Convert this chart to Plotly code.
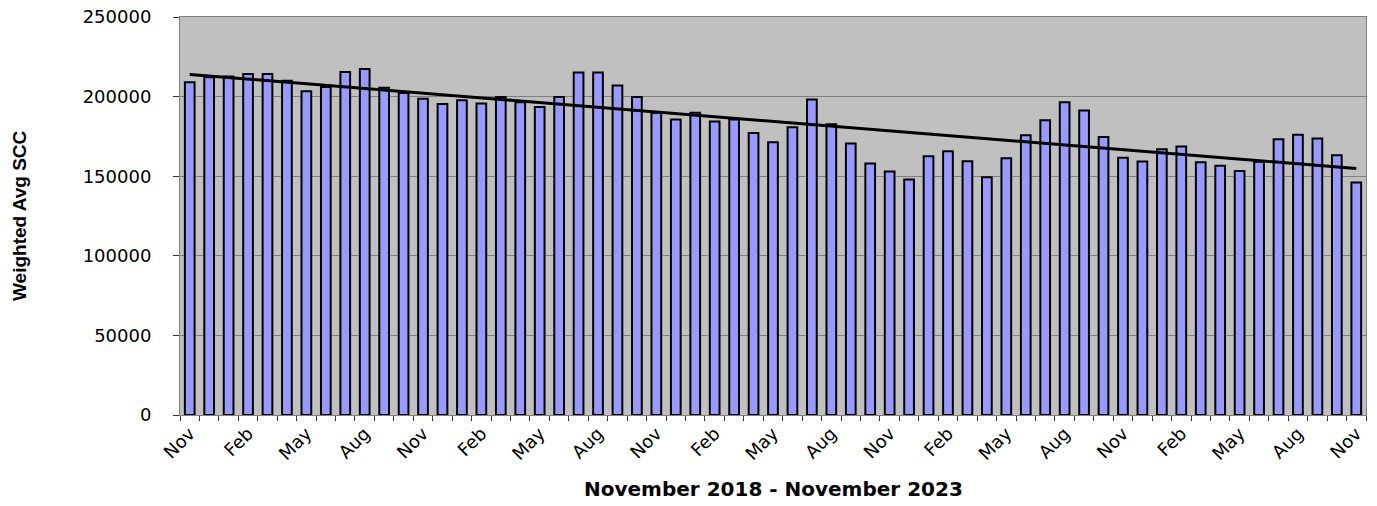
import numpy as np
import pandas as pd
import plotly.graph_objects as go

# Categories: monthly, November 2018 - November 2023
months = [d.strftime("%b") for d in pd.date_range("2018-11-01", "2023-11-01", freq="MS")]

# Weighted average SCC per month
scc_values = [
    209000, 212100, 212700, 214200, 214200, 210000, 203300, 206100, 215500, 217400,
    205500, 202300, 198600, 195400, 197700, 195600, 199800, 196400, 193500, 199800,
    215200, 215200, 206900, 199800, 189800, 185600, 189800, 184300, 185600, 177200,
    171400, 180800, 198100, 182600, 170500, 158000, 153000, 148000, 162600, 165700,
    159400, 149400, 161300, 175700, 185200, 196400, 191200, 174700, 161600, 159300,
    167000, 168700, 158800, 156600, 153200, 159100, 173200, 176000, 173700, 163200,
    146100,
]

label_every = 3
y_ticks = [0, 50000, 100000, 150000, 200000, 250000]
y_ticktext = [str(v) for v in y_ticks]

x_idx = np.arange(len(scc_values))
slope, intercept = np.polyfit(x_idx, scc_values, 1)
trend_x = [x_idx[0], x_idx[-1]]
trend_y = [intercept + slope * x_idx[0], intercept + slope * x_idx[-1]]

font_main = "DejaVu Sans, Liberation Sans, Arial, sans-serif"

fig = go.Figure()
fig.add_trace(go.Bar(
    x=x_idx, y=scc_values, width=0.5,
    marker=dict(color="#9999FF", line=dict(color="black", width=2)),
    showlegend=False,
))
fig.add_trace(go.Scatter(
    x=trend_x, y=trend_y, mode="lines",
    line=dict(color="black", width=3), showlegend=False,
))

tickvals = list(x_idx[::label_every])
ticktext = [months[i] for i in tickvals]

fig.update_layout(
    width=1377, height=506,
    margin=dict(l=180, r=11, t=17, b=91),
    paper_bgcolor="white",
    plot_bgcolor="#C0C0C0",
    font=dict(family=font_main, color="black", size=17),
    xaxis=dict(
        range=[-0.5, len(scc_values) - 0.5], automargin=False,
        tickmode="array", tickvals=tickvals, ticktext=ticktext,
        tickangle=-45, ticks="", showgrid=False, zeroline=False,
        showline=True, linecolor="#808080", linewidth=1, mirror=True,
        tickfont=dict(size=18, family=font_main),
        minor=dict(tickmode="array", tickvals=[i - 0.5 for i in range(len(scc_values) + 1)],
                   ticks="outside", ticklen=5, tickcolor="#333333", showgrid=False),
    ),
    yaxis=dict(
        range=[0, 250000], automargin=False,
        tickmode="array", tickvals=y_ticks, ticktext=y_ticktext,
        ticks="outside", ticklen=6, tickcolor="#333333",
        showgrid=True, gridcolor="#808080", gridwidth=1, zeroline=False,
        showline=True, linecolor="#808080", linewidth=1, mirror=True,
        tickfont=dict(size=18, family=font_main),
        ticklabelstandoff=18,
    ),
    annotations=[
        dict(text="<b>November 2018 - November 2023</b>", xref="paper", yref="paper",
             x=0.5, y=-0.155, yanchor="middle", xanchor="center", yshift=-12, showarrow=False,
             font=dict(size=20, family=font_main)),
        dict(text="<b>Weighted Avg SCC</b>", xref="paper", yref="paper",
             x=0, xshift=-161, y=0.5, textangle=-90, xanchor="center", yanchor="middle",
             showarrow=False, font=dict(size=19, family="Liberation Sans, Arial, sans-serif")),
    ],
)

fig.write_html(
    "out.html",
    config={"displayModeBar": False},
    post_script="document.body.style.margin='0';document.body.style.overflow='hidden';",
)
